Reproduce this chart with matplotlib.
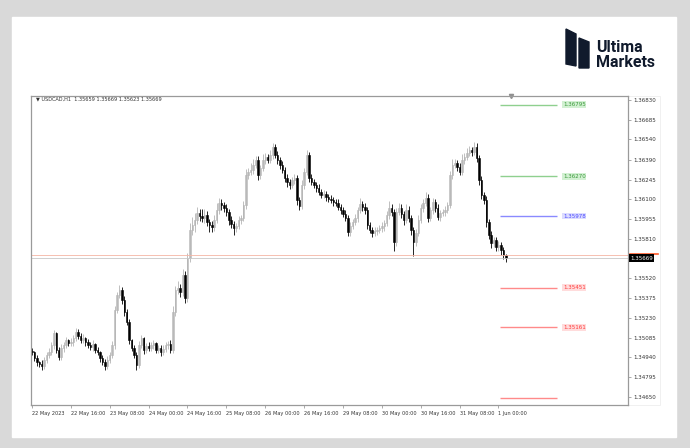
import numpy as np
import matplotlib
matplotlib.use("Agg")
import matplotlib.pyplot as plt
from matplotlib.patches import Rectangle, Polygon

# USDCAD H1, 22 May 2023 00:00 -> 1 Jun 2023 03:00
first_open = 1.34990
closes = [
    1.34980, 1.34936, 1.34907, 1.34892, 1.34878, 1.34922, 1.34958, 1.34980, 1.35032, 1.35120,
    1.34995, 1.34944, 1.35010, 1.35032, 1.35068, 1.35046, 1.35054, 1.35083, 1.35127, 1.35098,
    1.35068, 1.35083, 1.35054, 1.35032, 1.35017, 1.35039, 1.34995, 1.34980, 1.34936, 1.34907,
    1.34878, 1.34922, 1.34958, 1.35032, 1.35289, 1.35399, 1.35435, 1.35362, 1.35274, 1.35201,
    1.35068, 1.35010, 1.34958, 1.34885, 1.35032, 1.35083, 1.34995, 1.35024, 1.35010, 1.35032,
    1.35046, 1.34995, 1.35010, 1.34980, 1.35002, 1.35032, 1.35039, 1.34995, 1.35274, 1.35435,
    1.35450, 1.35421, 1.35546, 1.35377, 1.35670, 1.35876, 1.35913, 1.35949, 1.36001, 1.35979,
    1.35964, 1.35986, 1.35935, 1.35913, 1.35898, 1.35949, 1.36023, 1.36074, 1.36059, 1.36037,
    1.36008, 1.35949, 1.35920, 1.35891, 1.35905, 1.35949, 1.35964, 1.36059, 1.36280, 1.36302,
    1.36316, 1.36353, 1.36390, 1.36280, 1.36331, 1.36390, 1.36412, 1.36390, 1.36426, 1.36485,
    1.36426, 1.36390, 1.36353, 1.36316, 1.36257, 1.36228, 1.36206, 1.36243, 1.36257, 1.36096,
    1.36052, 1.36206, 1.36302, 1.36426, 1.36257, 1.36228, 1.36206, 1.36184, 1.36155, 1.36133,
    1.36140, 1.36118, 1.36103, 1.36096, 1.36081, 1.36074, 1.36045, 1.36023, 1.35993, 1.35964,
    1.35861, 1.35905, 1.35935, 1.35964, 1.36023, 1.36067, 1.36045, 1.36023, 1.35913, 1.35876,
    1.35854, 1.35869, 1.35876, 1.35891, 1.35905, 1.35927, 1.35986, 1.36037, 1.36008, 1.35788,
    1.36008, 1.36037, 1.35993, 1.35949, 1.36023, 1.35964, 1.35876, 1.35788, 1.35854, 1.35949,
    1.36037, 1.36074, 1.36111, 1.35964, 1.36023, 1.36081, 1.36037, 1.35971, 1.36001, 1.36008,
    1.36023, 1.36059, 1.36280, 1.36353, 1.36368, 1.36338, 1.36302, 1.36390, 1.36412, 1.36441,
    1.36463, 1.36448, 1.36485, 1.36404, 1.36243, 1.36133, 1.36096, 1.35935, 1.35839, 1.35780,
    1.35802, 1.35751, 1.35766, 1.35729, 1.35692, 1.35669,
]
# wick lengths in pips above / below the body
wick_up = [
    2, 1, 2, 1, 3, 2, 2, 3, 2, 2,  1, 2, 3, 2, 2, 1, 3, 2, 3, 2,
    2, 3, 1, 2, 2, 3, 1, 2, 1, 2,  2, 3, 2, 3, 3, 2, 4, 2, 3, 2,
    2, 1, 2, 2, 3, 2, 1, 2, 3, 2,  2, 1, 2, 2, 3, 2, 2, 3, 4, 3,
    5, 3, 4, 3, 4, 5, 6, 5, 4, 3,  5, 4, 3, 2, 3, 4, 5, 4, 3, 2,
    3, 2, 3, 2, 2, 3, 2, 3, 4, 3,  5, 4, 3, 3, 2, 4, 3, 2, 4, 3,
    2, 3, 2, 3, 2, 3, 2, 2, 3, 2,  2, 4, 3, 4, 2, 3, 2, 2, 3, 2,
    3, 2, 2, 3, 2, 2, 3, 2, 2, 3,  2, 3, 2, 3, 2, 4, 2, 3, 2, 2,
    2, 3, 2, 2, 3, 2, 3, 5, 3, 2,  3, 4, 3, 2, 4, 3, 2, 2, 3, 4,
    3, 3, 4, 3, 2, 3, 2, 3, 2, 2,  3, 2, 3, 4, 3, 2, 3, 4, 3, 4,
    3, 2, 4, 3, 2, 3, 2, 3, 2, 3,  2, 2, 3, 2, 2, 1,
]
wick_dn = [
    2, 2, 3, 2, 3, 2, 2, 2, 2, 3,  2, 2, 2, 3, 2, 2, 2, 3, 2, 2,
    2, 2, 3, 2, 2, 3, 2, 2, 3, 2,  3, 2, 2, 2, 3, 2, 2, 3, 3, 2,
    3, 2, 2, 4, 2, 2, 3, 2, 2, 2,  3, 2, 2, 3, 2, 2, 3, 2, 2, 3,
    3, 4, 3, 4, 3, 3, 4, 5, 3, 4,  3, 4, 3, 5, 4, 3, 2, 3, 4, 3,
    3, 4, 3, 5, 3, 2, 3, 2, 3, 3,  2, 3, 2, 4, 3, 2, 3, 2, 2, 3,
    2, 3, 3, 2, 3, 4, 3, 2, 3, 4,  3, 2, 3, 2, 3, 2, 2, 3, 2, 2,
    2, 3, 2, 2, 3, 2, 2, 3, 2, 2,  3, 3, 2, 2, 3, 2, 3, 3, 3, 2,
    3, 2, 3, 2, 3, 4, 2, 3, 3, 7,  3, 2, 3, 4, 2, 3, 4, 10, 3, 2,
    2, 3, 2, 3, 2, 3, 3, 2, 3, 2,  3, 2, 2, 3, 2, 3, 2, 2, 3, 2,
    2, 3, 2, 3, 4, 3, 3, 4, 3, 4,  3, 3, 3, 4, 3, 3,
]

time_labels = ["22 May 2023", "22 May 16:00", "23 May 08:00", "24 May 00:00",
               "24 May 16:00", "25 May 08:00", "26 May 00:00", "26 May 16:00",
               "29 May 08:00", "30 May 00:00", "30 May 16:00", "31 May 08:00",
               "1 Jun 00:00"]
price_ticks = [1.36830, 1.36685, 1.36540, 1.36390, 1.36245, 1.36100, 1.35955,
               1.35810, 1.35520, 1.35375, 1.35230, 1.35085, 1.34940, 1.34795,
               1.34650]
levels = [1.36795, 1.36270, 1.35978, 1.35451, 1.35161, 1.34640]
level_colors = ["#8fd08f", "#8fd08f", "#8a8aff", "#ff8a8a", "#ff8a8a", "#ff8a8a"]
level_show = [True, True, True, True, True, False]
bid, ask = 1.35669, 1.35690
header = "\u25bc USDCAD,H1  1.35659 1.35669 1.35623 1.35669"

W, H = 690, 448
fig = plt.figure(figsize=(W / 100, H / 100), dpi=100)
fig.patch.set_facecolor("#d9d9d9")


def fx(x):
    return x / W


def fy(y):
    return 1 - y / H


fig.add_artist(Rectangle((fx(12), fy(437)), fx(664), 420 / H,
                         transform=fig.transFigure, color="white", zorder=0))
# price scale panel
fig.add_artist(Rectangle((fx(628), fy(405)), fx(32), 309 / H,
                         transform=fig.transFigure, facecolor="white",
                         edgecolor="#eeeeee", lw=0.6, zorder=1))

# logo
navy = "#101a2c"
fig.add_artist(Polygon([(fx(566), fy(29)), (fx(576), fy(34)), (fx(576), fy(66)),
                        (fx(566), fy(64))], closed=True, transform=fig.transFigure,
                       color=navy))
fig.add_artist(Polygon([(fx(579), fy(38)), (fx(589), fy(42)), (fx(589), fy(68)),
                        (fx(579), fy(68))], closed=True, transform=fig.transFigure,
                       color=navy))
fig.text(fx(596), fy(47), "Ultima", fontsize=11.5, fontweight="bold", color=navy,
         va="center", ha="left", family="Roboto")
fig.text(fx(596), fy(62), "Markets", fontsize=11.5, fontweight="bold", color=navy,
         va="center", ha="left", family="Roboto")

ax = fig.add_axes([fx(31), fy(405), fx(597), 309 / H])
ax.set_zorder(2)

closes = np.array(closes)
n = len(closes)
assert len(wick_up) == n and len(wick_dn) == n
opens = np.concatenate([[first_open], closes[:-1]])
highs = np.maximum(opens, closes) + np.array(wick_up) * 0.0001
lows = np.minimum(opens, closes) - np.array(wick_dn) * 0.0001
x = np.arange(n)
bull = closes >= opens

ax.vlines(x[bull], lows[bull], highs[bull], color="#b4b4b4", lw=0.6)
ax.vlines(x[~bull], lows[~bull], highs[~bull], color="black", lw=0.6)
bottoms = np.minimum(opens, closes)
heights = np.maximum(np.abs(closes - opens), 0.00003)
ax.bar(x[bull], heights[bull], bottom=bottoms[bull], width=0.6,
       color="#d6d6d6", edgecolor="#b0b0b0", lw=0.4)
ax.bar(x[~bull], heights[~bull], bottom=bottoms[~bull], width=0.6,
       color="black", edgecolor="black", lw=0.4)

# bid / ask lines
ax.axhline(bid, color="#c8c8c8", lw=0.6)
ax.axhline(ask, color="#f5b5a5", lw=0.6)

# horizontal levels
for lv, c, show in zip(levels, level_colors, level_show):
    ax.hlines(lv, 192.6, 216, color=c, lw=1.0)
    if show:
        tc = {"#8fd08f": "#3a9a3a", "#8a8aff": "#4a4aff", "#ff8a8a": "#ff3a3a"}[c]
        bc = {"#8fd08f": "#d2f0d2", "#8a8aff": "#dcdcff", "#ff8a8a": "#ffdcdc"}[c]
        ax.text(218.5, lv, f"{lv:.5f}", fontsize=4.0, color=tc, va="center",
                ha="left", bbox=dict(boxstyle="square,pad=0.15", fc=bc, ec="none"))

ax.set_xlim(-0.4, 245.3)
ax.set_ylim(1.34591, 1.36859)

ax.plot([197], [1.36859], marker="v", color="#909090", markersize=3,
        clip_on=False)
ax.text(1.5, 1.36835, header, fontsize=3.6, color="#333333", va="center", ha="left")

ax.set_xticks(np.arange(0, n, 16))
ax.set_xticklabels(time_labels, fontsize=3.6, color="#333333", ha="left")
ax.yaxis.tick_right()
ax.set_yticks(price_ticks)
ax.set_yticklabels([f"{v:.5f}" for v in price_ticks], fontsize=4.0,
                   color="#333333")
ax.tick_params(axis="both", length=2.5, width=0.5, color="#888888", pad=1.5)
for sp in ax.spines.values():
    sp.set_color("#9a9a9a")
    sp.set_linewidth(0.9)

# current bid label on the price scale
ax.text(1.0035, bid, f"{bid:.5f}", transform=ax.get_yaxis_transform(),
        fontsize=4.0, color="white", va="center", ha="left",
        bbox=dict(boxstyle="square,pad=0.25", fc="black", ec="none"))
ax.plot([1.003, 1.05], [ask + 0.0001, ask + 0.0001], color="#ff5a2a", lw=1.2,
        transform=ax.get_yaxis_transform(), clip_on=False)

fig.savefig("out.png", dpi=100, facecolor=fig.get_facecolor())
